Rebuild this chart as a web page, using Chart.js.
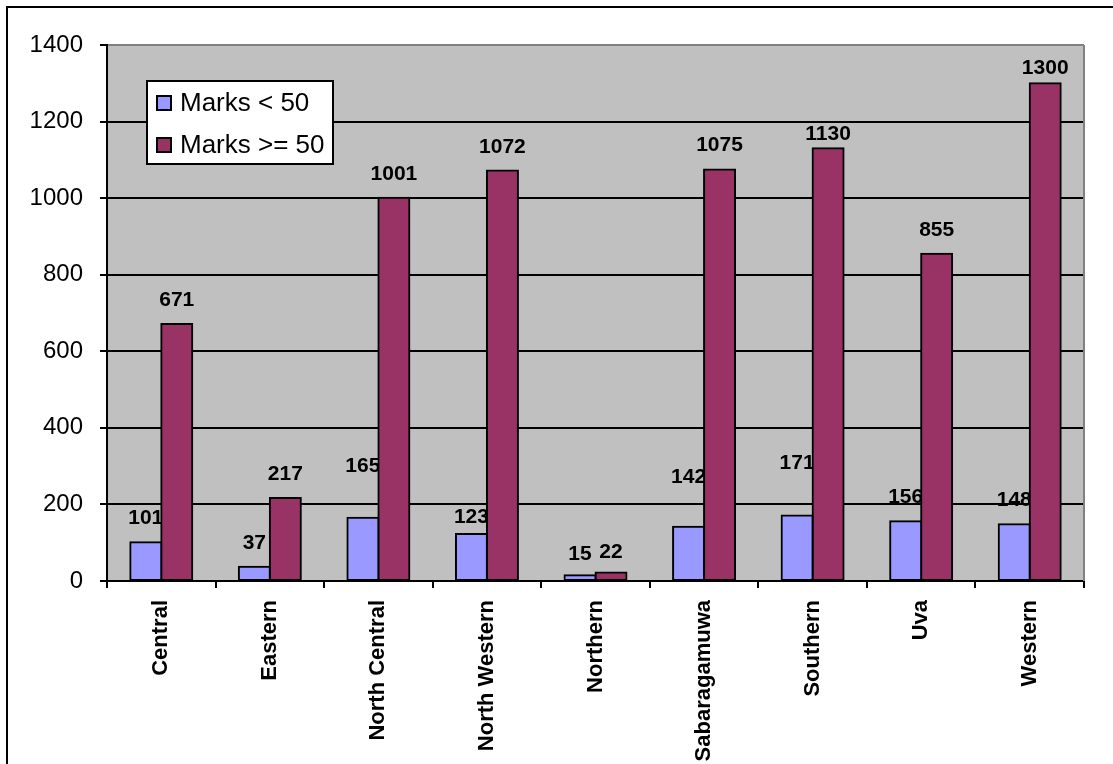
<!DOCTYPE html>
<html>
<head>
<meta charset="utf-8">
<script src="https://cdn.jsdelivr.net/npm/chart.js@4.4.1/dist/chart.umd.min.js"></script>
<style>
  body { margin: 0; background: #fff; }
  #wrap { width: 1113px; height: 764px; }
</style>
</head>
<body>
<div id="wrap"><canvas id="marksChart" width="1113" height="764"></canvas></div>
<script>
const provinces = ['Central', 'Eastern', 'North Central', 'North Western', 'Northern',
                   'Sabaragamuwa', 'Southern', 'Uva', 'Western'];
const below50 = [101, 37, 165, 123, 15, 142, 171, 156, 148];
const atLeast50 = [671, 217, 1001, 1072, 22, 1075, 1130, 855, 1300];
const seriesNames = ['Marks < 50', 'Marks >= 50'];
const yTicks = [0, 200, 400, 600, 800, 1000, 1200, 1400];

const FONT = "'Liberation Sans', Arial, sans-serif";

// gap between a value label and the top of its bar; a few labels sit higher/lower
const labelGap = 18;
const labelLift = { '0,2': 46, '0,5': 44, '0,6': 47, '0,3': 11, '0,4': 15, '1,4': 15, '1,6': 8, '1,8': 9 };

const framePlugin = {
    id: 'frame',
    beforeDraw(chart) {
        const { ctx, chartArea: a } = chart;
        ctx.save();
        ctx.fillStyle = '#fff';
        ctx.fillRect(0, 0, chart.width, chart.height);
        ctx.lineWidth = 2;
        ctx.strokeStyle = '#000';
        ctx.strokeRect(7, 7, chart.width + 20, chart.height + 20);
        ctx.fillStyle = '#c0c0c0';
        ctx.fillRect(a.left, a.top, a.right - a.left, a.bottom - a.top);
        ctx.restore();
    },
    beforeDatasetsDraw(chart) {
        // value labels go under the bars, so a wide label can be covered by the next bar
        const ctx = chart.ctx;
        ctx.save();
        ctx.font = 'bold 21px ' + FONT;
        ctx.fillStyle = '#000';
        ctx.textAlign = 'center';
        ctx.textBaseline = 'alphabetic';
        chart.data.datasets.forEach((ds, di) => {
            chart.getDatasetMeta(di).data.forEach((bar, i) => {
                const gap = labelLift[di + ',' + i] ?? labelGap;
                ctx.fillText(String(ds.data[i]), bar.x, bar.y - gap);
            });
        });
        ctx.restore();
    },
    afterDraw(chart) {
        const { ctx, chartArea: a } = chart;
        ctx.save();
        // right edge of the plot area
        ctx.strokeStyle = '#808080';
        ctx.lineWidth = 2;
        ctx.beginPath();
        ctx.moveTo(a.right, a.top);
        ctx.lineTo(a.right, a.bottom);
        ctx.stroke();

        // legend box
        const lx = 147, ly = 81, lw = 186, lh = 83;
        ctx.fillStyle = '#fff';
        ctx.fillRect(lx, ly, lw, lh);
        ctx.strokeStyle = '#000';
        ctx.strokeRect(lx, ly, lw, lh);
        ctx.font = '26px ' + FONT;
        ctx.textBaseline = 'middle';
        chart.data.datasets.forEach((ds, i) => {
            const cy = ly + 22 + i * 42;
            ctx.fillStyle = ds.backgroundColor;
            ctx.fillRect(157, cy - 7, 14, 14);
            ctx.strokeRect(157, cy - 7, 14, 14);
            ctx.fillStyle = '#000';
            ctx.fillText(ds.label, 180, cy + 1);
        });
        ctx.restore();
    }
};

new Chart(document.getElementById('marksChart'), {
    type: 'bar',
    data: {
        labels: provinces,
        datasets: [
            { label: seriesNames[0], data: below50, backgroundColor: '#9999ff' },
            { label: seriesNames[1], data: atLeast50, backgroundColor: '#993366' }
        ]
    },
    options: {
        responsive: false,
        animation: false,
        events: [],
        layout: { padding: { top: 45, right: 29, left: 0, bottom: 0 } },
        datasets: {
            bar: {
                borderColor: '#000',
                borderWidth: 2,
                borderSkipped: false,
                inflateAmount: 1,
                categoryPercentage: 0.571,
                barPercentage: 1
            }
        },
        plugins: {
            legend: { display: false },
            tooltip: { enabled: false }
        },
        scales: {
            x: {
                afterFit: s => { s.height = 183; },
                border: { color: '#000', width: 2 },
                grid: {
                    drawOnChartArea: false,
                    offset: true,
                    color: '#000',
                    lineWidth: 2,
                    tickLength: 7
                },
                ticks: {
                    color: '#000',
                    font: { family: FONT, size: 22, weight: 'bold' },
                    minRotation: 90,
                    maxRotation: 90,
                    padding: 12,
                    autoSkip: false
                }
            },
            y: {
                min: yTicks[0],
                max: yTicks[yTicks.length - 1],
                afterFit: s => { s.width = 107; },
                afterBuildTicks: s => { s.ticks = yTicks.map(v => ({ value: v })); },
                border: { color: '#000', width: 2 },
                grid: {
                    color: c => (c.tick && c.tick.value === yTicks[yTicks.length - 1]) ? '#808080' : '#000',
                    tickColor: '#000',
                    lineWidth: 2,
                    tickLength: 7
                },
                ticks: {
                    color: '#000',
                    font: { family: FONT, size: 24 },
                    padding: 17,
                    callback: v => String(v)
                }
            }
        }
    },
    plugins: [framePlugin]
});
</script>
</body>
</html>
